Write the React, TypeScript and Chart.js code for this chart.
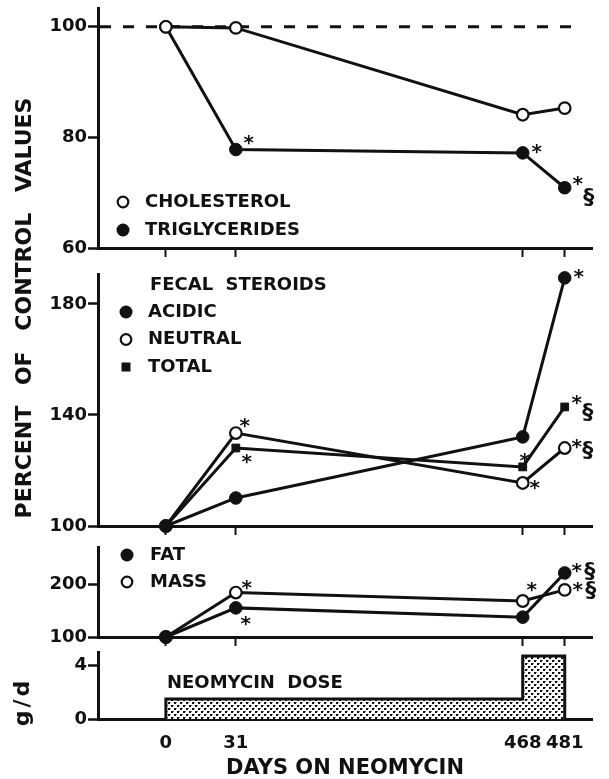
import React, { useEffect, useRef } from 'react';
import { Chart, registerables } from 'chart.js';

Chart.register(...registerables);

// ---------------- data ----------------
const dayLabels = ['0', '31', '468', '481'];
const days = [0, 31, 468, 481];
// the day axis is broken: position of each labelled day along the axis
const dayAxisPos = [0, 1, 5.1, 5.7];

const cholesterol = [100, 99.8, 84.1, 85.3];
const cholesterolSig = ['', '', '', ''];
const triglycerides = [100, 77.8, 77.2, 70.9];
const triglyceridesSig = ['', '*', '*', '*§'];

const acidic = [100, 110.1, 132.1, 189.4];
const acidicSig = ['', '', '', '*'];
const neutral = [100, 133.5, 115.5, 128.1];
const neutralSig = ['', '*', '*', '*§'];
const total = [100, 128.1, 121.3, 142.9];
const totalSig = ['', '*', '*', '*§'];

const fat = [100, 155, 137.5, 221];
const fatSig = ['', '*', '', '*§'];
const mass = [100, 184, 168, 189];
const massSig = ['', '*', '*', '*§'];

const doseDays = [0, 0, 468, 481, 481];
const doseGramsPerDay = [0, 1.5, 4.7, 4.7, 0];

const lipidTicks = [60, 80, 100];
const steroidTicks = [100, 140, 180];
const fecesTicks = [100, 200];
const doseTicks = [0, 4];
const controlValue = 100;

// ---------------- style ----------------
const FONT = '"DejaVu Sans", "Liberation Sans", sans-serif';
const INK = '#111';
const X_MIN = -0.97;
const X_MAX = 6.09;

type Kind = 'open' | 'filled' | 'square';

const markPlacement: Record<string, { star?: [number, number]; section?: [number, number] }> = {
  'TRIGLYCERIDES|1': { star: [13, -12] },
  'TRIGLYCERIDES|2': { star: [14, -6] },
  'TRIGLYCERIDES|3': { star: [13, -9], section: [24, 9] },
  'NEUTRAL|1': { star: [9, -12] },
  'TOTAL|1': { star: [11, 9] },
  'ACIDIC|3': { star: [14, -6] },
  'TOTAL|2': { star: [2, -11] },
  'NEUTRAL|2': { star: [12, 0] },
  'TOTAL|3': { star: [12, -9], section: [23, 5] },
  'NEUTRAL|3': { star: [12, -6], section: [23, 2] },
  'MASS|1': { star: [11, -10] },
  'FAT|1': { star: [10, 11] },
  'MASS|2': { star: [9, -16] },
  'FAT|3': { star: [12, -7], section: [25, -2] },
  'MASS|3': { star: [13, -5], section: [26, 0] },
};

function dayToPos(d: number): number {
  for (let i = 0; i < days.length - 1; i++) {
    if (d <= days[i + 1]) {
      const t = (d - days[i]) / (days[i + 1] - days[i]);
      return dayAxisPos[i] + t * (dayAxisPos[i + 1] - dayAxisPos[i]);
    }
  }
  return dayAxisPos[dayAxisPos.length - 1];
}

function pointStyleFor(kind: Kind) {
  if (kind === 'square')
    return { pointStyle: 'rect', pointRadius: 5.5, pointBackgroundColor: INK, pointBorderColor: INK, pointBorderWidth: 1 };
  if (kind === 'open')
    return { pointStyle: 'circle', pointRadius: 5.8, pointBackgroundColor: '#fff', pointBorderColor: INK, pointBorderWidth: 2.2 };
  return { pointStyle: 'circle', pointRadius: 6.3, pointBackgroundColor: INK, pointBorderColor: INK, pointBorderWidth: 1 };
}

function series(label: string, values: number[], sig: string[], kind: Kind) {
  return {
    label,
    data: values.map((v, i) => ({ x: dayToPos(days[i]), y: v })),
    sig,
    kind,
    borderColor: INK,
    borderWidth: 3,
    tension: 0,
    clip: false,
    ...pointStyleFor(kind),
  };
}

function drawMarker(ctx: CanvasRenderingContext2D, kind: Kind, x: number, y: number) {
  ctx.save();
  ctx.strokeStyle = INK;
  ctx.fillStyle = INK;
  if (kind === 'square') {
    ctx.fillRect(x - 4.5, y - 4.5, 9, 9);
  } else if (kind === 'open') {
    ctx.lineWidth = 2.2;
    ctx.beginPath();
    ctx.arc(x, y, 5.3, 0, Math.PI * 2);
    ctx.fillStyle = '#fff';
    ctx.fill();
    ctx.stroke();
  } else {
    ctx.beginPath();
    ctx.arc(x, y, 6.5, 0, Math.PI * 2);
    ctx.fill();
  }
  ctx.restore();
}

function sigPlugin() {
  return {
    id: 'sigMarks',
    afterDatasetsDraw(chart: any) {
      const ctx: CanvasRenderingContext2D = chart.ctx;
      chart.data.datasets.forEach((ds: any, di: number) => {
        if (!ds.sig) return;
        const meta = chart.getDatasetMeta(di);
        ds.sig.forEach((s: string, i: number) => {
          if (!s) return;
          const el = meta.data[i];
          const p = markPlacement[`${ds.label}|${i}`] || {};
          const star = p.star || [12, -8];
          const sec = p.section || [24, 3];
          ctx.save();
          ctx.fillStyle = INK;
          ctx.textAlign = 'center';
          ctx.textBaseline = 'alphabetic';
          if (s.includes('*')) {
            ctx.font = `bold 20px ${FONT}`;
            ctx.fillText('*', el.x + star[0], el.y + star[1] + 0.55 * 20);
          }
          if (s.includes('§')) {
            ctx.font = `bold 22px ${FONT}`;
            ctx.fillText('§', el.x + sec[0], el.y + sec[1] + 0.31 * 22);
          }
          ctx.restore();
        });
      });
    },
  };
}

interface LegendSpec {
  header?: string;
  headerX?: number;
  headerY?: number;
  rows: number[];
  markerX: number;
  textX: number;
  y0: number;
  rowH: number;
}

function legendPlugin(spec: LegendSpec) {
  return {
    id: 'panelLegend',
    afterDraw(chart: any) {
      const ctx: CanvasRenderingContext2D = chart.ctx;
      const ca = chart.chartArea;
      ctx.save();
      ctx.fillStyle = INK;
      ctx.font = `bold 18px ${FONT}`;
      ctx.textBaseline = 'middle';
      ctx.textAlign = 'left';
      (ctx as any).wordSpacing = '6px';
      if (spec.header) ctx.fillText(spec.header, ca.left + (spec.headerX || 0), ca.top + (spec.headerY || 0));
      spec.rows.forEach((di, r) => {
        const ds = chart.data.datasets[di];
        const y = ca.top + spec.y0 + r * spec.rowH;
        drawMarker(ctx, ds.kind, ca.left + spec.markerX, y);
        ctx.fillStyle = INK;
        ctx.fillText(ds.label, ca.left + spec.textX, y);
      });
      ctx.restore();
    },
  };
}

interface FreeText {
  text: string;
  x: number;
  y: number;
  font: string;
  rotate?: number;
  align?: CanvasTextAlign;
  letterSpacing?: string;
  wordSpacing?: string;
}

function textPlugin(items: FreeText[]) {
  return {
    id: 'freeText',
    afterDraw(chart: any) {
      const ctx: CanvasRenderingContext2D = chart.ctx;
      items.forEach((it) => {
        ctx.save();
        ctx.translate(it.x, it.y);
        if (it.rotate) ctx.rotate(it.rotate);
        ctx.font = it.font;
        ctx.fillStyle = INK;
        ctx.textAlign = it.align || 'center';
        ctx.textBaseline = 'middle';
        (ctx as any).letterSpacing = it.letterSpacing || '0px';
        (ctx as any).wordSpacing = it.wordSpacing || '0px';
        ctx.fillText(it.text, 0, 0);
        ctx.restore();
      });
    },
  };
}

function controlLinePlugin() {
  return {
    id: 'controlLine',
    beforeDatasetsDraw(chart: any) {
      const ctx: CanvasRenderingContext2D = chart.ctx;
      const ca = chart.chartArea;
      const y = chart.scales.y.getPixelForValue(controlValue);
      ctx.save();
      ctx.strokeStyle = INK;
      ctx.lineWidth = 3;
      ctx.setLineDash([11, 12]);
      ctx.beginPath();
      ctx.moveTo(ca.left + 2, y);
      ctx.lineTo(ca.right - 10, y);
      ctx.stroke();
      ctx.restore();
    },
  };
}

function xScale(showLabels: boolean, height: number) {
  return {
    type: 'linear',
    min: X_MIN,
    max: X_MAX,
    afterBuildTicks: (s: any) => {
      s.ticks = dayAxisPos.map((v) => ({ value: v }));
    },
    afterFit: (s: any) => {
      s.height = height;
      s.paddingLeft = 0;
      s.paddingRight = 0;
    },
    grid: showLabels
      ? { display: false }
      : { display: true, drawOnChartArea: false, drawTicks: true, tickLength: 9, tickWidth: 2, tickColor: INK, color: INK },
    border: { display: true, color: INK, width: 3 },
    ticks: {
      display: showLabels,
      autoSkip: false,
      maxRotation: 0,
      minRotation: 0,
      padding: 6,
      color: INK,
      font: { family: FONT, size: 18, weight: 'bold' },
      callback: (_v: any, i: number) => dayLabels[i],
    },
    title: showLabels
      ? {
          display: true,
          text: 'DAYS ON NEOMYCIN',
          color: INK,
          font: { family: FONT, size: 21, weight: 'bold', lineHeight: 1 },
          padding: { top: 0, bottom: 0 },
        }
      : { display: false },
  };
}

function yScale(min: number, max: number, ticks: number[]) {
  return {
    min,
    max,
    afterBuildTicks: (s: any) => {
      s.ticks = ticks.map((v) => ({ value: v }));
    },
    afterFit: (s: any) => {
      s.width = 98;
      s.paddingTop = 0;
      s.paddingBottom = 0;
    },
    grid: { display: true, drawOnChartArea: false, drawTicks: true, tickLength: 10, tickWidth: 2.5, tickColor: INK, color: INK },
    border: { display: true, color: INK, width: 3 },
    ticks: { padding: 1, color: INK, font: { family: FONT, size: 18, weight: 'bold' } },
  };
}

function baseOptions(padTop: number, padBottom: number, x: any, y: any) {
  return {
    responsive: false,
    maintainAspectRatio: false,
    animation: false,
    devicePixelRatio: 1,
    events: [],
    layout: { padding: { top: padTop, bottom: padBottom, left: 0, right: 17 } },
    plugins: { legend: { display: false }, tooltip: { enabled: false }, title: { display: false } },
    scales: { x, y },
  };
}

function makePattern(ctx: CanvasRenderingContext2D) {
  const pc = document.createElement('canvas');
  pc.width = 6;
  pc.height = 6;
  const g = pc.getContext('2d')!;
  g.fillStyle = '#fff';
  g.fillRect(0, 0, 6, 6);
  g.fillStyle = '#111';
  g.fillRect(0, 0, 2, 2);
  g.fillRect(3, 3, 2, 2);
  g.fillStyle = '#777';
  g.fillRect(2, 0, 1, 1);
  g.fillRect(5, 3, 1, 1);
  return ctx.createPattern(pc, 'repeat');
}

const PANELS = [
  { top: 0, height: 540 },
  { top: 262, height: 277 },
  { top: 539, height: 109 },
  { top: 648, height: 131 },
];

export default function App() {
  const r1 = useRef<HTMLCanvasElement>(null);
  const r2 = useRef<HTMLCanvasElement>(null);
  const r3 = useRef<HTMLCanvasElement>(null);
  const r4 = useRef<HTMLCanvasElement>(null);

  useEffect(() => {
    const charts: Chart[] = [];

    // Panel 1: serum lipids
    charts.push(
      new Chart(r1.current!, {
        type: 'line',
        data: {
          datasets: [
            series('CHOLESTEROL', cholesterol, cholesterolSig, 'open'),
            series('TRIGLYCERIDES', triglycerides, triglyceridesSig, 'filled'),
          ] as any,
        },
        options: baseOptions(8, 278, xScale(false, 14), yScale(60, 103.4, lipidTicks)) as any,
        plugins: [
          controlLinePlugin(),
          sigPlugin(),
          legendPlugin({ rows: [0, 1], markerX: 25, textX: 47, y0: 194, rowH: 28 }),
          textPlugin([
            {
              text: 'PERCENT OF CONTROL VALUES',
              x: 25,
              y: 308,
              rotate: -Math.PI / 2,
              font: `bold 22px ${FONT}`,
              wordSpacing: '13px',
            },
          ]),
        ] as any,
      })
    );

    // Panel 2: fecal steroids
    charts.push(
      new Chart(r2.current!, {
        type: 'line',
        data: {
          datasets: [
            series('ACIDIC', acidic, acidicSig, 'filled'),
            series('TOTAL', total, totalSig, 'square'),
            series('NEUTRAL', neutral, neutralSig, 'open'),
          ] as any,
        },
        options: baseOptions(12, 0, xScale(false, 13), yScale(100, 190.8, steroidTicks)) as any,
        plugins: [
          sigPlugin(),
          legendPlugin({
            header: 'FECAL STEROIDS',
            headerX: 52,
            headerY: 11,
            rows: [0, 2, 1],
            markerX: 28,
            textX: 50,
            y0: 38,
            rowH: 27.5,
          }),
        ] as any,
      })
    );

    // Panel 3: fecal fat and mass
    charts.push(
      new Chart(r3.current!, {
        type: 'line',
        data: {
          datasets: [series('FAT', fat, fatSig, 'filled'), series('MASS', mass, massSig, 'open')] as any,
        },
        options: baseOptions(3, 0, xScale(false, 11), yScale(100, 270, fecesTicks)) as any,
        plugins: [sigPlugin(), legendPlugin({ rows: [0, 1], markerX: 29, textX: 52, y0: 8, rowH: 27 })] as any,
      })
    );

    // Panel 4: neomycin dose
    const ctx4 = r4.current!.getContext('2d')!;
    const pattern = makePattern(ctx4);
    charts.push(
      new Chart(r4.current!, {
        type: 'line',
        data: {
          datasets: [
            {
              label: 'NEOMYCIN DOSE',
              data: doseDays.map((d, i) => ({ x: dayToPos(d), y: doseGramsPerDay[i] })),
              stepped: true,
              borderColor: INK,
              borderWidth: 3,
              pointRadius: 0,
              fill: 'origin',
              backgroundColor: pattern,
              clip: false,
            },
          ] as any,
        },
        options: baseOptions(4, 0, xScale(true, 60), yScale(0, 5, doseTicks)) as any,
        plugins: [
          textPlugin([
            { text: 'NEOMYCIN DOSE', x: 167, y: 35, align: 'left', font: `bold 18px ${FONT}`, wordSpacing: '6px' },
            { text: 'g/d', x: 23, y: 54, rotate: -Math.PI / 2, font: `bold 22px ${FONT}`, letterSpacing: '3px' },
          ]),
        ] as any,
      })
    );

    return () => charts.forEach((c) => c.destroy());
  }, []);

  const refs = [r1, r2, r3, r4];
  return (
    <div style={{ position: 'absolute', left: 0, top: 0, width: 609, height: 779, background: '#fff' }}>
      {PANELS.map((p, i) => (
        <canvas
          key={i}
          ref={refs[i]}
          width={609}
          height={p.height}
          style={{ position: 'absolute', left: 0, top: p.top, width: 609, height: p.height }}
        />
      ))}
    </div>
  );
}
